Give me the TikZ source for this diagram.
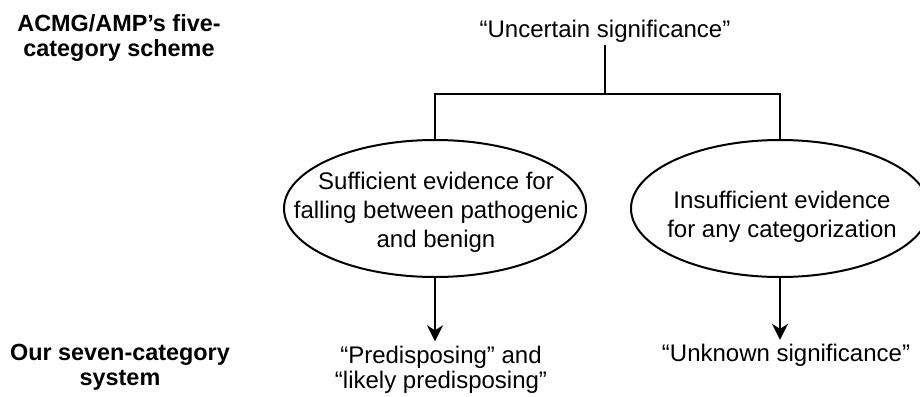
\documentclass[tikz,border=0pt]{standalone}
\usepackage{fontspec}
\setmainfont{Liberation Sans}
\usepackage{tikz}
\usetikzlibrary{positioning,arrows.meta,shapes.geometric,calc}

\begin{document}
\begin{tikzpicture}[
    >={Stealth[length=8pt, width=8pt, inset=2.5pt]},
    x=0.5pt, y=-0.5pt,
    line width=1pt,
    txt/.style={font=\fontsize{12}{12.5}\selectfont, align=center, inner sep=1pt},
    inside/.style={txt, font=\fontsize{12}{14.6}\selectfont},
    head/.style={txt, font=\fontsize{11.7}{12.5}\selectfont\bfseries},
    oval/.style={ellipse, draw, inner sep=0pt}
]
\useasboundingbox (0,0) rectangle (920,396);

% === Row labels (left side) ===
\node[head] (scheme) at (119, 38) {ACMG/AMP’s five-\\category scheme};
\node[head] (system) at (120, 367) {Our seven-category\\system};

% === Top category ===
\node[txt] (uncertain) at (605, 31) {“Uncertain significance”};
\coordinate (split) at (605, 94);

% Two kinds of evidence
\node[oval, minimum width=151pt, minimum height=68.5pt] (suff) at (435, 208.5) {};
\node[inside] (suffText) at (436, 212)
    {Sufficient evidence for\\falling between pathogenic\\and benign};
\node[oval, minimum width=149pt, minimum height=68.5pt] (insuff) at (780, 208.5) {};
\node[inside] (insuffText) at (782, 217)
    {Insufficient evidence\\for any categorization};

% === New categories (bottom) ===
\node[txt] (pred) at (441, 370) {“Predisposing” and\\“likely predisposing”};
\node[txt] (unknown) at (786, 355) {“Unknown significance”};

% Tree connectors
\draw (uncertain) -- (split);
\draw (suff.north) |- (split) -| (insuff.north);
\draw[->, shorten >=1pt] (suff.south) -- (suff.south |- pred.north);
\draw[->, shorten >=0.5pt] (insuff.south) -- (insuff.south |- unknown.north);
\end{tikzpicture}
\end{document}
